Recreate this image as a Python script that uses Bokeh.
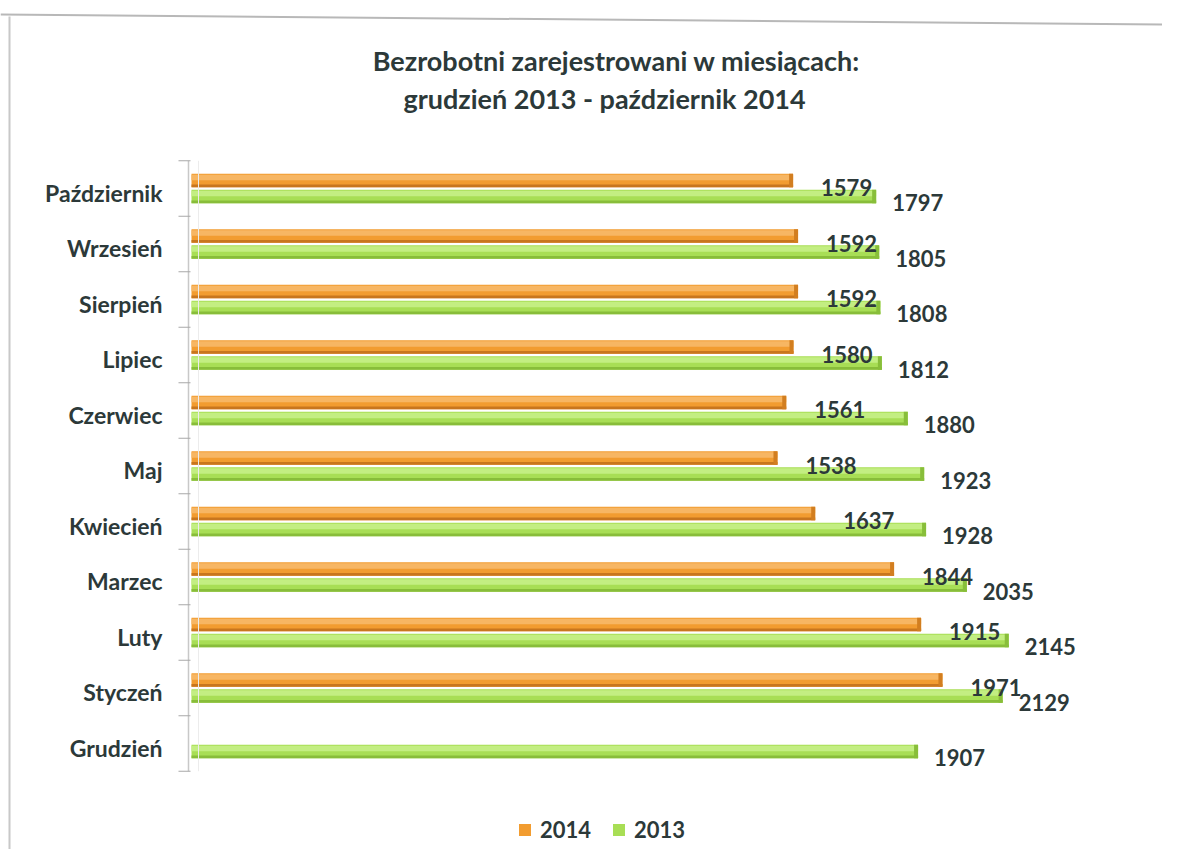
import math
from bokeh.plotting import figure
from bokeh.models import ColumnDataSource, Legend, LegendItem
from bokeh.core.properties import value
from bokeh.transform import dodge
from bokeh.embed import file_html
from bokeh.resources import INLINE

# ---------------- data ----------------
months = ["Grudzień", "Styczeń", "Luty", "Marzec", "Kwiecień", "Maj",
          "Czerwiec", "Lipiec", "Sierpień", "Wrzesień", "Październik"]
y2014 = [float("nan"), 1971, 1915, 1844, 1637, 1538, 1561, 1580, 1592, 1592, 1579]
y2013 = [1907, 2129, 2145, 2035, 1928, 1923, 1880, 1812, 1808, 1805, 1797]
series_labels = ["2014", "2013"]
title_lines = ["Bezrobotni zarejestrowani w miesiącach:",
               "grudzień 2013 - październik 2014"]

# ---------------- layout constants ----------------
W, H = 1162, 849
PX0 = 191.0      # pixel x of value 0
SX = 0.381       # pixels per person
ROW = 55.5       # pixels per category row
TOP_PX = 188.0   # pixel y of top category centre
n = len(months)

def X(px):
    return (px - PX0) / SX

def Y(py):
    return (n - 1) + (TOP_PX - py) / ROW

FONT = "Lato"
DARK = "#2c3939"

p = figure(width=W, height=H, output_backend="svg", toolbar_location=None,
           x_range=(X(0), X(W)), y_range=(Y(H), Y(0)),
           x_axis_location=None, y_axis_location=None, min_border=0)
p.grid.visible = False
p.outline_line_color = None
p.background_fill_color = "white"
p.border_fill_color = "white"

ks = list(range(n))
BH = 13.5 / ROW
OFF = 8.0 / ROW
cap = 4.0 / SX

src = ColumnDataSource(dict(
    k=ks, month=months, v14=y2014, v13=y2013,
    c14=[v - cap for v in y2014], c13=[v - cap for v in y2013],
))

def bar3d(col, capcol, off, base, light, dark, capc):
    r = p.hbar(y=dodge("k", off, range=p.y_range), left=0, right=col, height=BH,
               source=src, fill_color=base, line_color=None)
    p.hbar(y=dodge("k", off + BH * 0.22, range=p.y_range), left=0, right=col,
           height=BH * 0.4, source=src, fill_color=light, line_color=None)
    p.hbar(y=dodge("k", off - BH * 0.4, range=p.y_range), left=0, right=col,
           height=BH * 0.2, source=src, fill_color=dark, line_color=None)
    p.hbar(y=dodge("k", off, range=p.y_range), left=capcol, right=col, height=BH,
           source=src, fill_color=capc, line_color=None)
    return r

r14 = bar3d("v14", "c14", OFF, "#f29c30", "#f7b663", "#c8761e", "#d27e20")
r13 = bar3d("v13", "c13", -OFF, "#a8de55", "#c3ee82", "#88bd3a", "#88be3a")

# axis line and ticks (category boundaries)
p.segment(x0=X(188), y0=-0.5, x1=X(188), y1=n - 0.5, line_color="#c8c8c8", line_width=1.5)
p.segment(x0=X(198), y0=-0.5, x1=X(198), y1=n - 0.5, line_color="#ececec", line_width=1)
bounds = [i - 0.5 for i in range(n + 1)]
p.segment(x0=[X(178)] * len(bounds), y0=bounds, x1=[X(190)] * len(bounds), y1=bounds,
          line_color="#a8a8a8", line_width=1.2)

# category labels
p.text(x=X(162), y=dodge("k", -4 / ROW, range=p.y_range), text="month", source=src,
       text_align="right", text_baseline="middle", text_font=value(FONT),
       text_font_style="bold", text_font_size=value("23px"), text_color=DARK)

# value labels
lab14 = ColumnDataSource(dict(
    k=[k for k, v in zip(ks, y2014) if not math.isnan(v)],
    v=[v for v in y2014 if not math.isnan(v)],
    t=[str(int(v)) for v in y2014 if not math.isnan(v)],
))
lab13 = ColumnDataSource(dict(k=ks, v=y2013, t=[str(v) for v in y2013]))
p.text(x="v", y=dodge("k", 1 / ROW, range=p.y_range), text="t", source=lab14,
       x_offset=28, text_align="left", text_baseline="middle", text_font=value(FONT),
       text_font_style="bold", text_font_size=value("22px"), text_color=DARK)
p.text(x="v", y=dodge("k", -14 / ROW, range=p.y_range), text="t", source=lab13,
       x_offset=16, text_align="left", text_baseline="middle", text_font=value(FONT),
       text_font_style="bold", text_font_size=value("22px"), text_color=DARK)

# title
p.text(x=[X(616), X(604)], y=[Y(60), Y(98)], text=title_lines,
       text_align="center", text_baseline="middle", text_font=value(FONT),
       text_font_style="bold", text_font_size=value("27px"), text_color=DARK)

# frame lines of the scanned chart area
p.segment(x0=X(0), y0=Y(14), x1=X(W), y1=Y(24), line_color="#b8b8b8", line_width=2)
p.segment(x0=X(9), y0=Y(16), x1=X(9), y1=Y(H), line_color="#c8c8c8", line_width=2)

legend = Legend(items=[LegendItem(label=series_labels[0], renderers=[r14]),
                       LegendItem(label=series_labels[1], renderers=[r13])],
                location=(517, 6), orientation="horizontal",
                border_line_color=None, background_fill_alpha=0,
                glyph_width=15, glyph_height=15, label_standoff=8, spacing=20,
                padding=0, margin=0,
                label_text_font=FONT, label_text_font_style="bold",
                label_text_font_size="22px", label_text_color=DARK)
p.add_layout(legend)

open("out.html", "w").write(file_html(p, INLINE))
